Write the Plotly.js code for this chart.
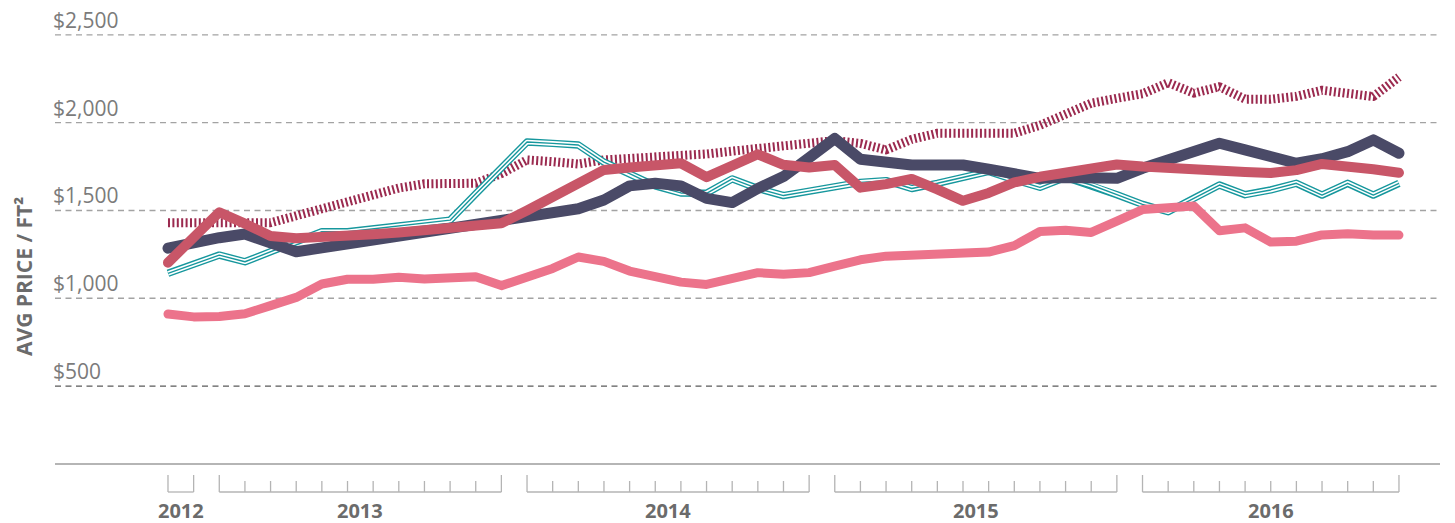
<!DOCTYPE html>
<html><head><meta charset="utf-8">
<script src="https://cdn.plot.ly/plotly-3.0.1.min.js"></script>
<style>html,body{margin:0;padding:0;background:#fff}#chart{width:1455px;height:523px}</style>
</head><body><div id="chart"></div>
<script>
// ---- data (monthly, Nov 2012 - Nov 2016) ----
const months = ["2012-11","2012-12",
  "2013-01","2013-02","2013-03","2013-04","2013-05","2013-06","2013-07","2013-08","2013-09","2013-10","2013-11","2013-12",
  "2014-01","2014-02","2014-03","2014-04","2014-05","2014-06","2014-07","2014-08","2014-09","2014-10","2014-11","2014-12",
  "2015-01","2015-02","2015-03","2015-04","2015-05","2015-06","2015-07","2015-08","2015-09","2015-10","2015-11","2015-12",
  "2016-01","2016-02","2016-03","2016-04","2016-05","2016-06","2016-07","2016-08","2016-09","2016-10","2016-11"];

const seriesMaroon = [1430,1430,1430,1430,1430,1470,1510,1550,1590,1628,1652,1653,1655,1710,
  1788,1778,1765,1788,1794,1800,1807,1822,1838,1854,1870,1887,
  1898,1882,1845,1905,1940,1940,1940,1940,1985,2050,2111,2139,
  2165,2228,2168,2205,2134,2134,2150,2185,2170,2149,2260];

const seriesTeal = [1142,1195,1246,1208,1265,1322,1379,1379,1395,1410,1428,1445,1595,1745,
  1890,1882,1873,1775,1710,1640,1600,1598,1680,1625,1585,1610,
  1635,1660,1670,1625,1655,1690,1722,1675,1632,1689,1645,1590,
  1535,1493,1570,1645,1590,1617,1655,1588,1655,1588,1655];

const seriesNavy = [1285,1320,1345,1366,1315,1265,1287,1310,1332,1355,1377,1398,1420,1440,
  1462,1485,1510,1560,1640,1655,1640,1569,1545,1625,1693,1800,
  1910,1792,1770,1759,1759,1759,1735,1705,1683,1688,1690,1683,
  1740,1788,1835,1883,1845,1805,1769,1795,1835,1902,1826];

const seriesRed = [1203,1340,1490,1425,1355,1342,1345,1355,1365,1375,1385,1395,1410,1427,
  1500,1580,1655,1731,1745,1760,1769,1690,1750,1820,1760,1745,
  1759,1630,1650,1680,1620,1555,1600,1660,1692,1718,1745,1762,
  1750,1740,1727,1723,1719,1714,1730,1765,1755,1735,1715];

const seriesPink = [910,894,896,912,958,1005,1081,1108,1108,1120,1110,1112,1123,1072,
  1120,1170,1235,1210,1155,1125,1092,1079,1113,1146,1137,1146,
  1183,1219,1240,1245,1252,1258,1263,1300,1380,1388,1375,1440,
  1505,1515,1525,1385,1401,1320,1325,1361,1367,1360,1360];

const yTicks = [500, 1000, 1500, 2000, 2500];
const yTickLabels = ["$500", "$1,000", "$1,500", "$2,000", "$2,500"];
const yTitle = "AVG PRICE / FT²";

// ---- geometry helpers ----
const W = 1455, H = 523;
const M = {l: 55, r: 15, t: 30, b: 59};
const plotH = H - M.t - M.b;
const plotW = W - M.l - M.r;
const py = px => -px / plotH;          // pixels below the plot bottom -> paper y
const FONT = "Open Sans, Noto Sans, sans-serif";

function lineTrace(y, color, width, dash) {
  return {type: 'scatter', mode: 'lines', x: months, y: y,
    line: {color: color, width: width, dash: dash || 'solid', shape: 'linear'},
    hoverinfo: 'skip', showlegend: false};
}

const traces = [
  lineTrace(seriesMaroon, '#9b2a4f', 9, '2px,2.4px'),
  lineTrace(seriesTeal, '#16979d', 7.4),
  lineTrace(seriesTeal, '#ffffff', 4.6),
  lineTrace(seriesTeal, '#16979d', 1.4),
  lineTrace(seriesNavy, '#4a4a67', 11),
  lineTrace(seriesRed, '#c85668', 10),
  lineTrace(seriesPink, '#ec738b', 9)
];
const roundCap = [false, false, false, false, true, true, true];

const shapes = [];
const annotations = [];

// gridlines + y labels
yTicks.forEach((v, i) => {
  shapes.push({type: 'line', xref: 'paper', x0: 0, x1: 1, yref: 'y', y0: v, y1: v, layer: 'below',
    line: {color: v === 500 ? '#5a5a5a' : '#a3a3a3', width: 1.3, dash: '6px,4.5px'}});
  annotations.push({xref: 'paper', x: 0, xanchor: 'left', xshift: -4, yref: 'y', y: v, yanchor: 'middle', yshift: 15,
    text: yTickLabels[i], showarrow: false, font: {family: FONT, size: 21, color: '#7b7b7b'}});
});

// baseline
shapes.push({type: 'line', xref: 'paper', x0: 0, x1: 1, yref: 'paper', y0: 0, y1: 0,
  line: {color: '#9d9d9d', width: 1.6}});

// year brackets
const groups = {};
months.forEach((m, i) => {
  const yr = m.slice(0, 4);
  if (!groups[yr]) groups[yr] = [];
  groups[yr].push(i);
});
const bracketColor = '#b4b4b4';
Object.keys(groups).forEach(yr => {
  const idx = groups[yr];
  const first = idx[0], last = idx[idx.length - 1];
  shapes.push({type: 'line', xref: 'x', x0: first, x1: last, yref: 'paper', y0: py(28), y1: py(28),
    line: {color: bracketColor, width: 1.3}});
  idx.forEach(i => {
    const outer = (i === first || i === last);
    shapes.push({type: 'line', xref: 'x', x0: i, x1: i, yref: 'paper', y0: py(outer ? 11 : 17), y1: py(28),
      line: {color: bracketColor, width: 1.3}});
  });
  annotations.push({xref: 'x', x: (first + last) / 2, yref: 'paper', y: py(46), yanchor: 'middle',
    text: '<b>' + yr + '</b>', showarrow: false, font: {family: FONT, size: 20, color: '#6b6b6b'}});
});

// y title
annotations.push({xref: 'paper', x: (24 - M.l) / plotW, xanchor: 'center', yref: 'paper', y: (plotH - (277 - M.t)) / plotH,
  yanchor: 'middle', textangle: -90, text: '<b>' + yTitle + '</b>', showarrow: false,
  font: {family: FONT, size: 21, color: '#6b6b6b'}});

const layout = {
  width: W, height: H, margin: M,
  paper_bgcolor: '#ffffff', plot_bgcolor: '#ffffff',
  showlegend: false,
  xaxis: {type: 'category', range: [-4.406, 49.6], showgrid: false, zeroline: false, showticklabels: false,
    ticks: '', showline: false, fixedrange: true},
  yaxis: {range: [56, 2528], showgrid: false, zeroline: false, showticklabels: false, ticks: '', showline: false, fixedrange: true},
  shapes: shapes,
  annotations: annotations
};

Plotly.newPlot('chart', traces, layout, {displayModeBar: false, staticPlot: true}).then(gd => {
  gd.querySelectorAll('.scatterlayer .trace').forEach((t, i) => {
    const p = t.querySelector('path.js-line');
    if (p) {
      p.style.strokeLinejoin = 'round';
      if (roundCap[i]) p.style.strokeLinecap = 'round';
    }
  });
});
</script>
</body></html>
